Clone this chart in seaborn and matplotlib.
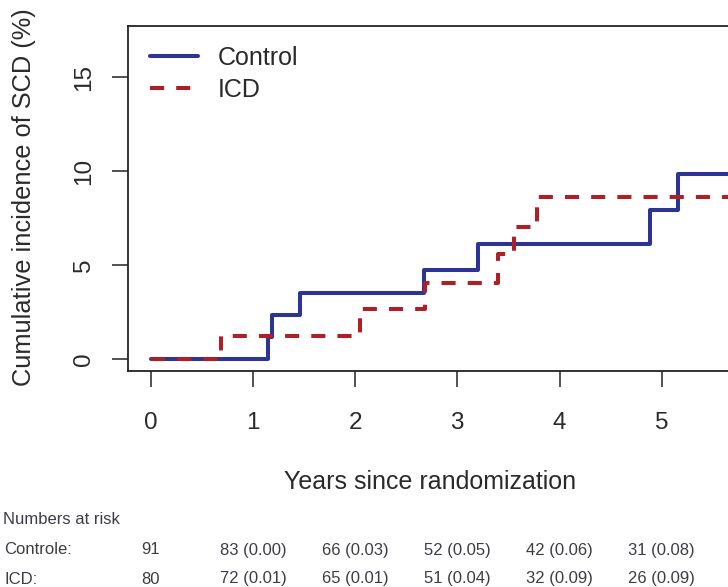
import matplotlib
matplotlib.use("Agg")
import matplotlib.pyplot as plt
import matplotlib.transforms as mtransforms
import numpy as np
import pandas as pd
import seaborn as sns

# Cumulative incidence step functions (years, %)
control_time = [0.0, 1.15, 1.19, 1.46, 2.67, 3.20, 4.89, 5.16, 6.0]
control_inc = [0.0, 1.16, 2.33, 3.50, 4.74, 6.13, 7.94, 9.86, 9.86]
icd_time = [0.0, 0.69, 2.05, 2.68, 3.40, 3.55, 3.78, 6.0]
icd_inc = [0.0, 1.25, 2.64, 4.03, 5.62, 7.03, 8.63, 8.63]

group_names = ["Control", "ICD"]

# Numbers at risk table (count and cumulative incidence at each year)
risk_years = [0, 1, 2, 3, 4, 5]
control_at_risk = [91, 83, 66, 52, 42, 31]
control_ci = [None, 0.00, 0.03, 0.05, 0.06, 0.08]
icd_at_risk = [80, 72, 65, 51, 32, 26]
icd_ci = [None, 0.01, 0.01, 0.04, 0.09, 0.09]

x_ticks = [0, 1, 2, 3, 4, 5]
y_ticks = [0, 5, 10, 15]

sns.set_theme(style="white")
plt.rcParams["font.family"] = ["Liberation Sans", "DejaVu Sans"]

df = pd.concat([
    pd.DataFrame({"time": control_time, "cuminc": control_inc, "group": group_names[0]}),
    pd.DataFrame({"time": icd_time, "cuminc": icd_inc, "group": group_names[1]}),
], ignore_index=True)

W, H = 728, 587
fig = plt.figure(figsize=(W / 100, H / 100), dpi=100)
fig.patch.set_facecolor("white")

left_px, right_px, top_px, bottom_px = 128, 740, 25.7, 371
ax = fig.add_axes([left_px / W, 1 - bottom_px / H,
                   (right_px - left_px) / W, (bottom_px - top_px) / H])

palette = {"Control": "#2D3594", "ICD": "#AE1F26"}
sns.lineplot(data=df, x="time", y="cuminc", hue="group", style="group",
             palette=palette, dashes={"Control": "", "ICD": (3.5, 3)},
             drawstyle="steps-post", linewidth=2.9, estimator=None,
             ax=ax, legend=True)

ax.set_xticks(x_ticks)
ax.set_yticks(y_ticks)
ax.set_xlim(-0.222, 5.766)
ax.set_ylim(-0.64, 17.76)
ax.set_xlabel("")
ax.set_ylabel("")

for s in ax.spines.values():
    s.set_visible(True)
    s.set_color("#222222")
    s.set_linewidth(1.3)

text_color = "#2a2a2a"
ax.tick_params(axis="both", which="major", direction="out", length=11.5,
               width=1.1, color="#222222", labelsize=17.5, labelcolor=text_color,
               bottom=True, left=True)
ax.tick_params(axis="x", pad=18)
ax.tick_params(axis="y", pad=12)
for lab in ax.get_yticklabels():
    lab.set_rotation(90)
    lab.set_va("center")

# Legend
handles, labels = ax.get_legend_handles_labels()
ax.legend(handles, labels, loc="upper left",
          bbox_to_anchor=(150 / W, 1 - 46 / H), bbox_transform=fig.transFigure,
          frameon=False, fontsize=18, handlelength=1.92, handletextpad=0.8,
          labelspacing=0.32, borderpad=0, borderaxespad=0,
          labelcolor=text_color)

# Axis titles
fig.text(24 / W, 1 - 197 / H, "Cumulative incidence of SCD (%)", rotation=90,
         ha="center", va="center", fontsize=18.3, color=text_color)
fig.text(430 / W, 1 - 482 / H, "Years since randomization",
         ha="center", va="center", fontsize=18, color=text_color)

# Numbers-at-risk table below the plot
table_color = "#3c3c46"
fs = 12
trans = mtransforms.blended_transform_factory(ax.transData, fig.transFigure)
fig.text(3 / W, 1 - 520 / H, "Numbers at risk", ha="left", va="center",
         fontsize=fs, color=table_color)
rows = [("Controle:", control_at_risk, control_ci, 550),
        ("ICD:", icd_at_risk, icd_ci, 579)]
for name, counts, cis, ypx in rows:
    fig.text(4 / W, 1 - ypx / H, name, ha="left", va="center",
             fontsize=fs, color=table_color)
    for yr, n, ci in zip(risk_years, counts, cis):
        s = f"{n}" if ci is None else f"{n} ({ci:.2f})"
        ax.text(yr, 1 - ypx / H, s, transform=trans, ha="center", va="center",
                fontsize=fs, color=table_color, clip_on=False)

fig.savefig("out.png", dpi=100, facecolor="white")
